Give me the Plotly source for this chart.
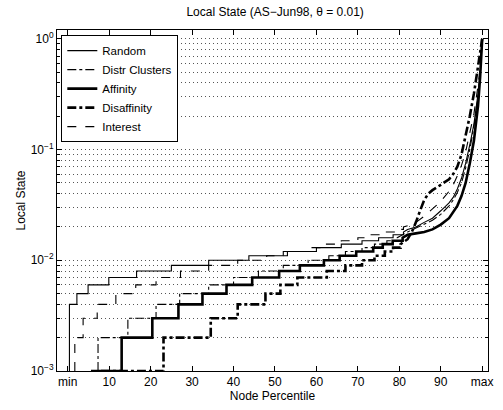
import plotly.graph_objects as go

# ---- data (node percentile where each step level begins, step value) ----
random_p = [0.4, 2.2, 4.9, 9.9, 16.6, 25.0, 34.0, 43.7, 52.0, 60.0, 66.0, 71.0, 75.0, 78.5]
random_v = [0.004, 0.005, 0.006, 0.007, 0.008, 0.009, 0.010, 0.011, 0.012, 0.013, 0.014, 0.015, 0.016, 0.017]
random_tp = [81, 82, 84, 86, 88, 90, 92, 93, 94, 95, 96, 97, 98, 99, 99.5, 100]
random_tv = [0.018, 0.019, 0.020, 0.022, 0.024, 0.028, 0.033, 0.037, 0.044, 0.055, 0.075, 0.11, 0.17, 0.32, 0.5, 1.0]

distr_p = [7.3, 7.3, 14.5, 21.3, 27.0, 34.0, 40.0, 46.0, 52.0, 58.0, 63.0, 67.0, 71.0, 74.0, 77.0]
distr_v = [0.001, 0.002, 0.003, 0.004, 0.005, 0.006, 0.007, 0.008, 0.009, 0.010, 0.011, 0.012, 0.013, 0.014, 0.015]
distr_tp = [79.5, 82, 84, 86, 88, 90, 92, 93, 94, 95, 96, 97, 98, 99, 99.5, 100]
distr_tv = [0.016, 0.018, 0.0195, 0.021, 0.023, 0.026, 0.031, 0.035, 0.041, 0.05, 0.068, 0.1, 0.16, 0.3, 0.48, 0.95]

aff_p = [5.6, 13.0, 20.4, 26.7, 32.5, 38.3, 44.5, 51.0, 56.0, 61.8, 65.6, 69.6, 73.7, 76.0, 78.4]
aff_v = [0.001, 0.002, 0.003, 0.004, 0.005, 0.006, 0.007, 0.008, 0.009, 0.010, 0.011, 0.012, 0.013, 0.014, 0.015]
aff_tp = [80.8, 82, 84, 86, 88, 90, 92, 93, 94, 95, 96, 97, 98, 99, 99.5, 100]
aff_tv = [0.016, 0.017, 0.0175, 0.018, 0.019, 0.021, 0.024, 0.027, 0.031, 0.038, 0.05, 0.075, 0.12, 0.25, 0.45, 1.0]

disaff_p = [8.0, 23.1, 34.5, 41.0, 47.7, 51.3, 55.4, 62.5, 67.0, 71.0, 74.0, 76.5, 78.5]
disaff_v = [0.001, 0.002, 0.003, 0.004, 0.005, 0.006, 0.007, 0.008, 0.009, 0.010, 0.011, 0.012, 0.013]
disaff_tp = [80.3, 82, 83, 84, 85, 86, 87, 88, 90, 92, 93, 94, 95, 96, 97, 98, 99, 100]
disaff_tv = [0.014, 0.0155, 0.018, 0.022, 0.028, 0.035, 0.040, 0.043, 0.048, 0.054, 0.06, 0.07, 0.09, 0.13, 0.2, 0.32, 0.55, 1.0]

inter_p = [1.7, 1.7, 3.7, 7.1, 11.6, 16.4, 21.3, 27.2, 34.0, 41.0, 48.0, 53.0, 58.0, 62.0, 66.0, 70.0, 73.0, 76.0, 79.0]
inter_v = [0.001, 0.002, 0.003, 0.004, 0.005, 0.006, 0.007, 0.008, 0.009, 0.010, 0.011, 0.012, 0.013, 0.014, 0.015, 0.016, 0.017, 0.018, 0.019]
inter_tp = [81, 82, 84, 86, 88, 90, 92, 93, 94, 95, 96, 97, 98, 99, 99.5, 100]
inter_tv = [0.0200, 0.0205, 0.022, 0.025, 0.029, 0.034, 0.042, 0.048, 0.058, 0.072, 0.095, 0.14, 0.21, 0.38, 0.55, 1.0]

x_tickvals = [0, 10, 20, 30, 40, 50, 60, 70, 80, 90, 100]
x_ticktext = ["min", "10", "20", "30", "40", "50", "60", "70", "80", "90", "max"]
y_tickvals = [0.001, 0.01, 0.1, 1]
y_ticktext = ["10<sup>−3</sup>", "10<sup>−2</sup>", "10<sup>−1</sup>", "10<sup>0</sup>"]
y_decades = [0.001, 0.01, 0.1]
y_mantissas = [2, 3, 4, 5, 6, 7, 8, 9]
y_minor = [d * m for d in y_decades for m in y_mantissas]


def expand(sp, sv, tp, tv):
    xs, ys = [], []
    start_low = 0.001
    xs.append(sp[0]); ys.append(start_low if sv[0] > start_low else sv[0])
    prev = ys[-1]
    for p, v in zip(sp, sv):
        xs += [p, p]; ys += [prev, v]
        prev = v
    xs += [tp[0]]; ys += [prev]
    xs += list(tp); ys += list(tv)
    return xs, ys


FONT = "Liberation Sans, Arial, sans-serif"
series = [
    ("Random", random_p, random_v, random_tp, random_tv, 1.1, "solid"),
    ("Distr Clusters", distr_p, distr_v, distr_tp, distr_tv, 1.1, "dashdot"),
    ("Affinity", aff_p, aff_v, aff_tp, aff_tv, 2.6, "solid"),
    ("Disaffinity", disaff_p, disaff_v, disaff_tp, disaff_tv, 2.6, "dashdot"),
    ("Interest", inter_p, inter_v, inter_tp, inter_tv, 1.1, "dash"),
]

fig = go.Figure()
for name, sp, sv, tp, tv, w, dash in series:
    xs, ys = expand(sp, sv, tp, tv)
    fig.add_trace(go.Scatter(x=xs, y=ys, mode="lines", name=name,
                             line=dict(color="black", width=w, dash=dash)))

GRID = "#555"
GDASH = "1px,3px"
fig.update_layout(
    width=503, height=410,
    margin=dict(l=57, r=10, t=30, b=35),
    paper_bgcolor="white", plot_bgcolor="white",
    font=dict(family=FONT, size=12, color="black"),
    title=dict(text="Local State (AS−Jun98, θ = 0.01)", x=0.547, xanchor="center",
               y=0.972, yanchor="middle", font=dict(size=12)),
    showlegend=True,
    legend=dict(x=0.01, y=0.985, xanchor="left", yanchor="top",
                bgcolor="white", bordercolor="black", borderwidth=1,
                font=dict(size=11.5), tracegroupgap=0, itemwidth=30),
)
fig.update_xaxes(
    range=[-2.6, 101.4], tickvals=x_tickvals, ticktext=x_ticktext,
    ticks="inside", ticklen=5, tickcolor="black", showline=True, linecolor="black",
    linewidth=1, mirror="ticks", showgrid=False, zeroline=False,
    title=dict(text="Node Percentile", standoff=2, font=dict(size=12)),
    tickfont=dict(size=12),
)
fig.update_yaxes(
    type="log", range=[-3, 0.08], tickvals=y_tickvals, ticktext=y_ticktext,
    ticks="inside", ticklen=5, tickcolor="black", showline=True, linecolor="black",
    linewidth=1, mirror="ticks", zeroline=False,
    showgrid=True, gridcolor=GRID, griddash=GDASH, gridwidth=1,
    minor=dict(tickmode="array", tickvals=y_minor, ticks="inside", ticklen=3,
               tickcolor="black", showgrid=True,
               gridcolor=GRID, griddash=GDASH, gridwidth=1),
    title=dict(text="Local State", standoff=2, font=dict(size=12)),
    tickfont=dict(size=12),
)

fig.write_html("out.html")
